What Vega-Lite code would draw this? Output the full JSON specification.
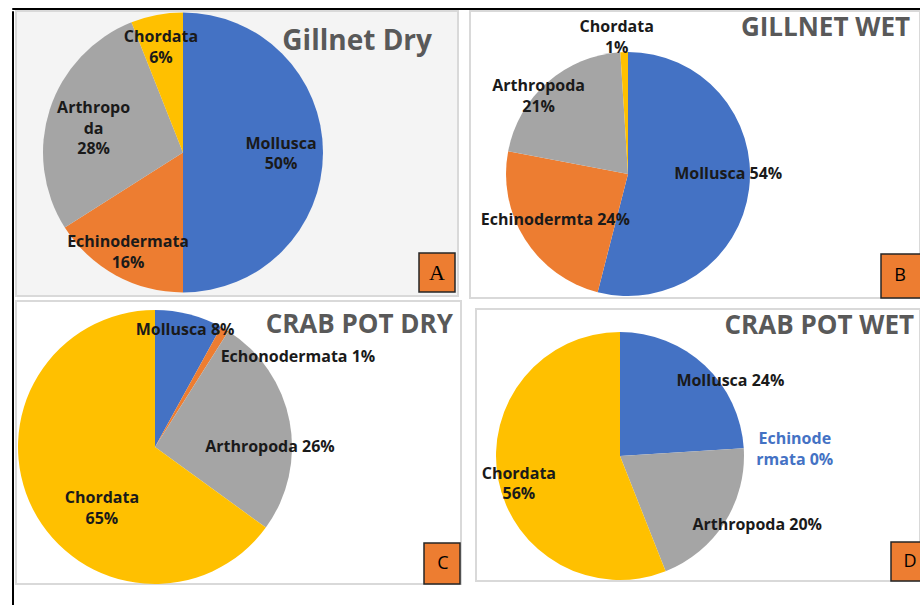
{
  "$schema": "https://vega.github.io/schema/vega-lite/v6.json",
  "padding": {"left": 11, "top": 7, "right": 0, "bottom": 0},
  "background": "white",
  "spacing": 0,
  "config": {
    "view": {"stroke": null},
    "font": "Open Sans",
    "text": {"font": "Open Sans", "fontSize": 16, "fontWeight": "bold", "color": "#1a1a1a", "lineBreak": "\n", "lineHeight": 20.5, "align": "center", "baseline": "middle"},
    "title": {"font": "Open Sans", "fontSize": 26, "fontWeight": "bold", "color": "#595959", "anchor": "end", "frame": "group", "baseline": "alphabetic"}
  },
  "datasets": {
    "gd": [
      {"phylum": "Mollusca", "pct": 50, "order": 1, "label": "Mollusca\n50%"},
      {"phylum": "Echinodermata", "pct": 16, "order": 2, "label": "Echinodermata\n16%"},
      {"phylum": "Arthropoda", "pct": 28, "order": 3, "label": "Arthropo\nda\n28%"},
      {"phylum": "Chordata", "pct": 6, "order": 4, "label": "Chordata\n6%"}
    ],
    "gw": [
      {"phylum": "Mollusca", "pct": 54, "order": 1, "label": "Mollusca 54%"},
      {"phylum": "Echinodermata", "pct": 24, "order": 2, "label": "Echinodermta 24%"},
      {"phylum": "Arthropoda", "pct": 21, "order": 3, "label": "Arthropoda\n21%"},
      {"phylum": "Chordata", "pct": 1, "order": 4, "label": "Chordata\n1%"}
    ],
    "cd": [
      {"phylum": "Mollusca", "pct": 8, "order": 1, "label": "Mollusca 8%"},
      {"phylum": "Echinodermata", "pct": 1, "order": 2, "label": "Echonodermata 1%"},
      {"phylum": "Arthropoda", "pct": 26, "order": 3, "label": "Arthropoda 26%"},
      {"phylum": "Chordata", "pct": 65, "order": 4, "label": "Chordata\n65%"}
    ],
    "cw": [
      {"phylum": "Mollusca", "pct": 24, "order": 1, "label": "Mollusca 24%"},
      {"phylum": "Echinodermata", "pct": 0, "order": 2, "label": "Echinode\nrmata 0%"},
      {"phylum": "Arthropoda", "pct": 20, "order": 3, "label": "Arthropoda 20%"},
      {"phylum": "Chordata", "pct": 56, "order": 4, "label": "Chordata\n56%"}
    ]
  },
  "vconcat": [
    {"width": 909, "height": 1, "data": {"values": []}, "mark": "rule", "encoding": {}, "view": {"stroke": "#000000", "strokeWidth": 1}},
    {
      "spacing": 1,
      "hconcat": [
        {"width": 1, "height": 597, "data": {"values": []}, "mark": "rule", "encoding": {}, "view": {"stroke": "#000000", "strokeWidth": 1}},
        {
          "spacing": 0,
          "vconcat": [
            {
              "spacing": 10,
              "hconcat": [
                {
                  "width": 442, "height": 285,
                  "data": {"name": "gd"},
                  "view": {"stroke": "#d9d9d9", "strokeWidth": 2, "fill": "#f4f4f4"},
                  "title": {"text": "Gillnet Dry", "offset": -45, "dx": -26, "fontSize": 28},
                  "layer": [
                    {"mark": {"type": "arc", "radius": 140, "xOffset": -54, "yOffset": -1}, "encoding": {"theta": {"field": "pct", "type": "quantitative", "stack": true}, "order": {"field": "order"}, "color": {"field": "phylum", "type": "nominal", "scale": {"domain": ["Mollusca", "Echinodermata", "Arthropoda", "Chordata"], "range": ["#4472C4", "#ED7D31", "#A5A5A5", "#FFC000"]}, "legend": null}}},
                    {"mark": {"type": "text", "radius": 98, "xOffset": -54, "yOffset": -1, "dy": -9}, "encoding": {"theta": {"field": "pct", "type": "quantitative", "stack": true}, "order": {"field": "order"}, "text": {"condition": {"test": "datum.phylum === 'Mollusca'", "field": "label"}, "value": ""}}},
                    {"mark": {"type": "text", "radius": 114, "xOffset": -54, "yOffset": -1, "dy": -10}, "encoding": {"theta": {"field": "pct", "type": "quantitative", "stack": true}, "order": {"field": "order"}, "text": {"condition": {"test": "datum.phylum === 'Echinodermata'", "field": "label"}, "value": ""}}},
                    {"mark": {"type": "text", "radius": 94, "xOffset": -54, "yOffset": -1, "dy": -15}, "encoding": {"theta": {"field": "pct", "type": "quantitative", "stack": true}, "order": {"field": "order"}, "text": {"condition": {"test": "datum.phylum === 'Arthropoda'", "field": "label"}, "value": ""}}},
                    {"mark": {"type": "text", "radius": 107, "xOffset": -54, "yOffset": -1, "dx": -2, "dy": -10}, "encoding": {"theta": {"field": "pct", "type": "quantitative", "stack": true}, "order": {"field": "order"}, "text": {"condition": {"test": "datum.phylum === 'Chordata'", "field": "label"}, "value": ""}}},
                    {
                      "data": {"values": [{"letter": "A"}]},
                      "layer": [
                        {"mark": {"type": "rect", "fill": "#ED7D31", "stroke": "#262626", "strokeWidth": 1.5, "xOffset": -39, "x2Offset": -3, "yOffset": -43, "y2Offset": -4}, "encoding": {"x": {"value": "width"}, "x2": {"value": "width"}, "y": {"value": "height"}, "y2": {"value": "height"}}},
                        {"mark": {"type": "text", "font": "Liberation Serif", "fontWeight": "normal", "fontSize": 22, "color": "#000000", "xOffset": -21, "yOffset": -23}, "encoding": {"x": {"value": "width"}, "y": {"value": "height"}, "text": {"field": "letter"}}}
                      ]
                    }
                  ]
                },
                {
                  "width": 450, "height": 287,
                  "data": {"name": "gw"},
                  "view": {"stroke": "#d9d9d9", "strokeWidth": 2, "fill": "#ffffff"},
                  "title": {"text": "GILLNET WET", "offset": -30, "dx": -10},
                  "layer": [
                    {"mark": {"type": "arc", "radius": 122, "xOffset": -67, "yOffset": 19.5}, "encoding": {"theta": {"field": "pct", "type": "quantitative", "stack": true}, "order": {"field": "order"}, "color": {"field": "phylum", "type": "nominal", "scale": {"domain": ["Mollusca", "Echinodermata", "Arthropoda", "Chordata"], "range": ["#4472C4", "#ED7D31", "#A5A5A5", "#FFC000"]}, "legend": null}}},
                    {"mark": {"type": "text", "radius": 101, "xOffset": -67, "yOffset": 19.5, "dy": -13}, "encoding": {"theta": {"field": "pct", "type": "quantitative", "stack": true}, "order": {"field": "order"}, "text": {"condition": {"test": "datum.phylum === 'Mollusca'", "field": "label"}, "value": ""}}},
                    {"mark": {"type": "text", "radius": 86, "xOffset": -67, "yOffset": 19.5}, "encoding": {"theta": {"field": "pct", "type": "quantitative", "stack": true}, "order": {"field": "order"}, "text": {"condition": {"test": "datum.phylum === 'Echinodermata'", "field": "label"}, "value": ""}}},
                    {"mark": {"type": "text", "radius": 117, "xOffset": -67, "yOffset": 19.5, "dx": -12, "dy": 0}, "encoding": {"theta": {"field": "pct", "type": "quantitative", "stack": true}, "order": {"field": "order"}, "text": {"condition": {"test": "datum.phylum === 'Arthropoda'", "field": "label"}, "value": ""}}},
                    {"mark": {"type": "text", "radius": 137, "xOffset": -67, "yOffset": 19.5, "dx": -7, "dy": -10}, "encoding": {"theta": {"field": "pct", "type": "quantitative", "stack": true}, "order": {"field": "order"}, "text": {"condition": {"test": "datum.phylum === 'Chordata'", "field": "label"}, "value": ""}}},
                    {
                      "data": {"values": [{"letter": "B"}]},
                      "layer": [
                        {"mark": {"type": "rect", "fill": "#ED7D31", "stroke": "#262626", "strokeWidth": 1.5, "xOffset": -39, "x2Offset": 2, "yOffset": -44, "y2Offset": 0}, "encoding": {"x": {"value": "width"}, "x2": {"value": "width"}, "y": {"value": "height"}, "y2": {"value": "height"}}},
                        {"mark": {"type": "text", "fontWeight": "normal", "fontSize": 18, "color": "#000000", "xOffset": -20, "yOffset": -22}, "encoding": {"x": {"value": "width"}, "y": {"value": "height"}, "text": {"field": "letter"}}}
                      ]
                    }
                  ]
                }
              ]
            },
            {
              "spacing": 13,
              "hconcat": [
                {
                  "width": 445, "height": 283,
                  "data": {"name": "cd"},
                  "view": {"stroke": "#d9d9d9", "strokeWidth": 2, "fill": "#ffffff"},
                  "title": {"text": "CRAB POT DRY", "offset": -37, "dx": -8},
                  "layer": [
                    {"mark": {"type": "arc", "radius": 137, "xOffset": -83.5, "yOffset": 4.5}, "encoding": {"theta": {"field": "pct", "type": "quantitative", "stack": true}, "order": {"field": "order"}, "color": {"field": "phylum", "type": "nominal", "scale": {"domain": ["Mollusca", "Echinodermata", "Arthropoda", "Chordata"], "range": ["#4472C4", "#ED7D31", "#A5A5A5", "#FFC000"]}, "legend": null}}},
                    {"mark": {"type": "text", "radius": 121, "xOffset": -83.5, "yOffset": 4.5}, "encoding": {"theta": {"field": "pct", "type": "quantitative", "stack": true}, "order": {"field": "order"}, "text": {"condition": {"test": "datum.phylum === 'Mollusca'", "field": "label"}, "value": ""}}},
                    {"mark": {"type": "text", "radius": 104, "xOffset": -83.5, "yOffset": 4.5, "dx": 90}, "encoding": {"theta": {"field": "pct", "type": "quantitative", "stack": true}, "order": {"field": "order"}, "text": {"condition": {"test": "datum.phylum === 'Echinodermata'", "field": "label"}, "value": ""}}},
                    {"mark": {"type": "text", "radius": 115, "xOffset": -83.5, "yOffset": 4.5, "dx": 2, "dy": 22}, "encoding": {"theta": {"field": "pct", "type": "quantitative", "stack": true}, "order": {"field": "order"}, "text": {"condition": {"test": "datum.phylum === 'Arthropoda'", "field": "label"}, "value": ""}}},
                    {"mark": {"type": "text", "radius": 82, "xOffset": -83.5, "yOffset": 4.5, "dx": 20, "dy": 14}, "encoding": {"theta": {"field": "pct", "type": "quantitative", "stack": true}, "order": {"field": "order"}, "text": {"condition": {"test": "datum.phylum === 'Chordata'", "field": "label"}, "value": ""}}},
                    {
                      "data": {"values": [{"letter": "C"}]},
                      "layer": [
                        {"mark": {"type": "rect", "fill": "#ED7D31", "stroke": "#262626", "strokeWidth": 1.5, "xOffset": -37, "x2Offset": -1, "yOffset": -41, "y2Offset": 0}, "encoding": {"x": {"value": "width"}, "x2": {"value": "width"}, "y": {"value": "height"}, "y2": {"value": "height"}}},
                        {"mark": {"type": "text", "fontWeight": "normal", "fontSize": 18, "color": "#000000", "xOffset": -18, "yOffset": -20}, "encoding": {"x": {"value": "width"}, "y": {"value": "height"}, "text": {"field": "letter"}}}
                      ]
                    }
                  ]
                },
                {
                  "spacing": 5,
                  "vconcat": [
                    {"width": 444, "height": 1, "data": {"values": []}, "mark": "rule", "encoding": {}, "view": {"stroke": "transparent"}},
                    {
                      "width": 444, "height": 272,
                      "data": {"name": "cw"},
                      "view": {"stroke": "#d9d9d9", "strokeWidth": 2, "fill": "#ffffff"},
                      "title": {"text": "CRAB POT WET", "offset": -30, "dx": -6},
                      "layer": [
                        {"mark": {"type": "arc", "radius": 124, "xOffset": -78, "yOffset": 11}, "encoding": {"theta": {"field": "pct", "type": "quantitative", "stack": true}, "order": {"field": "order"}, "color": {"field": "phylum", "type": "nominal", "scale": {"domain": ["Mollusca", "Echinodermata", "Arthropoda", "Chordata"], "range": ["#4472C4", "#ED7D31", "#A5A5A5", "#FFC000"]}, "legend": null}}},
                        {"mark": {"type": "text", "radius": 132, "xOffset": -78, "yOffset": 11, "dx": 20, "dy": 21}, "encoding": {"theta": {"field": "pct", "type": "quantitative", "stack": true}, "order": {"field": "order"}, "text": {"condition": {"test": "datum.phylum === 'Mollusca'", "field": "label"}, "value": ""}}},
                        {"mark": {"type": "text", "radius": 100, "xOffset": -78, "yOffset": 11, "dx": 75, "dy": -10.5, "color": "#4472C4"}, "encoding": {"theta": {"field": "pct", "type": "quantitative", "stack": true}, "order": {"field": "order"}, "text": {"condition": {"test": "datum.phylum === 'Echinodermata'", "field": "label"}, "value": ""}}},
                        {"mark": {"type": "text", "radius": 140, "xOffset": -78, "yOffset": 11, "dx": 19, "dy": -6}, "encoding": {"theta": {"field": "pct", "type": "quantitative", "stack": true}, "order": {"field": "order"}, "text": {"condition": {"test": "datum.phylum === 'Arthropoda'", "field": "label"}, "value": ""}}},
                        {"mark": {"type": "text", "radius": 105, "xOffset": -78, "yOffset": 11, "dx": 2, "dy": -2}, "encoding": {"theta": {"field": "pct", "type": "quantitative", "stack": true}, "order": {"field": "order"}, "text": {"condition": {"test": "datum.phylum === 'Chordata'", "field": "label"}, "value": ""}}},
                        {
                          "data": {"values": [{"letter": "D"}]},
                          "layer": [
                            {"mark": {"type": "rect", "fill": "#ED7D31", "stroke": "#262626", "strokeWidth": 1.5, "xOffset": -29, "x2Offset": 2, "yOffset": -39, "y2Offset": 0}, "encoding": {"x": {"value": "width"}, "x2": {"value": "width"}, "y": {"value": "height"}, "y2": {"value": "height"}}},
                            {"mark": {"type": "text", "fontWeight": "normal", "fontSize": 18, "color": "#000000", "xOffset": -10, "yOffset": -19}, "encoding": {"x": {"value": "width"}, "y": {"value": "height"}, "text": {"field": "letter"}}}
                          ]
                        }
                      ]
                    }
                  ]
                }
              ]
            }
          ]
        }
      ]
    }
  ]
}
